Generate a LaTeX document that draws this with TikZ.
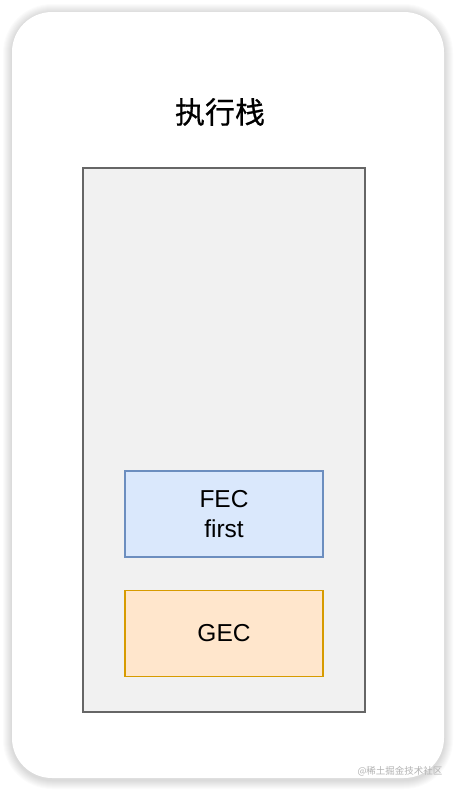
\documentclass[tikz,border=0pt]{standalone}
\usepackage{fontspec}
\setmainfont{Liberation Sans}
\newfontfamily\cjk{Noto Sans CJK SC}
\newfontfamily\cjktitle[FakeBold=0.6]{Noto Sans CJK SC}
\usepackage{tikz}
\usetikzlibrary{positioning}
\definecolor{stackfill}{HTML}{F1F1F1}
\definecolor{stackline}{HTML}{666666}
\definecolor{fecfill}{HTML}{DAE8FC}
\definecolor{fecline}{HTML}{6C8EBF}
\definecolor{gecfill}{HTML}{FFE6CC}
\definecolor{gecline}{HTML}{D79B00}

\begin{document}
\begin{tikzpicture}[x=1pt,y=-1pt]
\tikzstyle{ctxbox}=[draw,line width=1.3pt,minimum width=198pt,minimum height=86pt,inner sep=0pt,align=center,font=\fontsize{24.5}{30}\selectfont]

\useasboundingbox (0,0) rectangle (456,790);
\fill[white] (0,0) rectangle (456,790);

% soft shadow round the card
\foreach \s in {1,...,9}
{
    \fill[black,opacity=0.014,rounded corners=40+\s] (12-\s,13-\s) rectangle (444+\s,780+\s);
}
\fill[white,rounded corners=40] (12,12) rectangle (444,778);

\node (title) at (220,112) {\cjktitle\fontsize{30}{30}\selectfont 执行栈};

\node [draw=stackline,fill=stackfill,line width=1.3pt,minimum width=282pt,minimum height=544pt] (stack) at (224,440) {};

\node [ctxbox,draw=fecline,fill=fecfill] (fec) at (224,514) {FEC\\first};
\node [ctxbox,draw=gecline,fill=gecfill,below=32pt of fec] (gec) {GEC};

\node [text=black!30,font=\cjk\fontsize{9.5}{10}\selectfont] (mark) at (400,771) {@稀土掘金技术社区};
\end{tikzpicture}
\end{document}
